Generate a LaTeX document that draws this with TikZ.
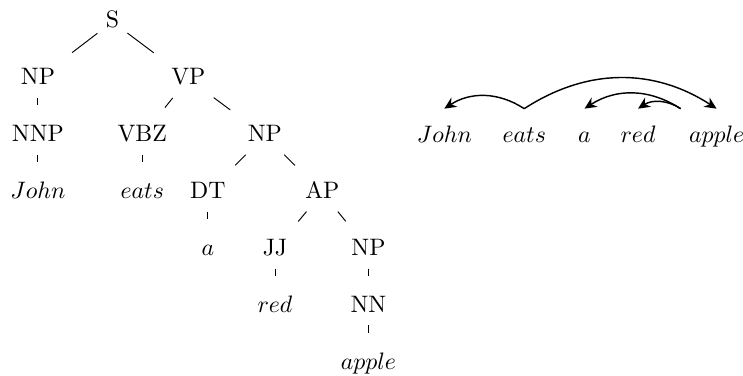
\documentclass[tikz,border=0pt]{standalone}
\usepackage{amsmath}
\usetikzlibrary{arrows.meta}

\begin{document}
\begin{tikzpicture}[auto,
    category/.style ={anchor=base, text height=7pt, text depth=2pt},
    token/.style ={anchor=base, text height=7pt, text depth=2pt, inner ysep=6.9pt},
    branch/.style ={shorten >=4.8pt},
    arc/.style ={semithick, -{Stealth[length=5pt,width=4.6pt,inset=1.6pt]}}]
   \useasboundingbox (0,0) rectangle (10.97,-5.55);

   \node[category] (S) at (1.66,-0.41) {S};
   \node[category] (NPa) at (0.56,-1.25) {NP};
   \node[category] (VP) at (2.78,-1.25) {VP};
   \node[category] (NNP) at (0.56,-2.09) {NNP};
   \node[category] (VBZ) at (2.10,-2.09) {VBZ};
   \node[category] (NPb) at (3.91,-2.09) {NP};
   \node[category] (wJohn) at (0.56,-2.93) {$John$};
   \node[category] (weats) at (2.10,-2.93) {$eats$};
   \node[category] (DT) at (3.07,-2.93) {DT};
   \node[category] (AP) at (4.76,-2.93) {AP};
   \node[category] (wa) at (3.07,-3.77) {$a$};
   \node[category] (JJ) at (4.06,-3.77) {JJ};
   \node[category] (NPc) at (5.44,-3.77) {NP};
   \node[category] (wred) at (4.06,-4.61) {$red$};
   \node[category] (NN) at (5.44,-4.61) {NN};
   \node[category] (wapple) at (5.44,-5.45) {$apple$};

   \draw[branch] (S) -- (NPa);
   \draw[branch] (S) -- (VP);
   \draw[branch] (NPa) -- (NNP);
   \draw[branch] (NNP) -- (wJohn);
   \draw[branch] (VP) -- (VBZ);
   \draw[branch] (VP) -- (NPb);
   \draw[branch] (VBZ) -- (weats);
   \draw[branch] (NPb) -- (DT);
   \draw[branch] (NPb) -- (AP);
   \draw[branch] (DT) -- (wa);
   \draw[branch] (AP) -- (JJ);
   \draw[branch] (AP) -- (NPc);
   \draw[branch] (JJ) -- (wred);
   \draw[branch] (NPc) -- (NN);
   \draw[branch] (NN) -- (wapple);

   \node[token] (John) at (6.56,-2.10) {$John$};
   \node[token] (eats) at (7.74,-2.10) {$eats$};
   \node[token] (a) at (8.63,-2.10) {$a$};
   \node[token] (red) at (9.42,-2.10) {$red$};
   \node[token] (apple) at (10.58,-2.10) {$apple$};

   \draw[arc] (eats.north) to[bend right=33] (John.north);
   \draw[arc] (eats.north) to[bend left=33] (apple.north);
   \draw[arc] (apple.north west) to[bend right=33] (a.north);
   \draw[arc] (apple.north west) to[bend right=33] (red.north);
\end{tikzpicture}
\end{document}
